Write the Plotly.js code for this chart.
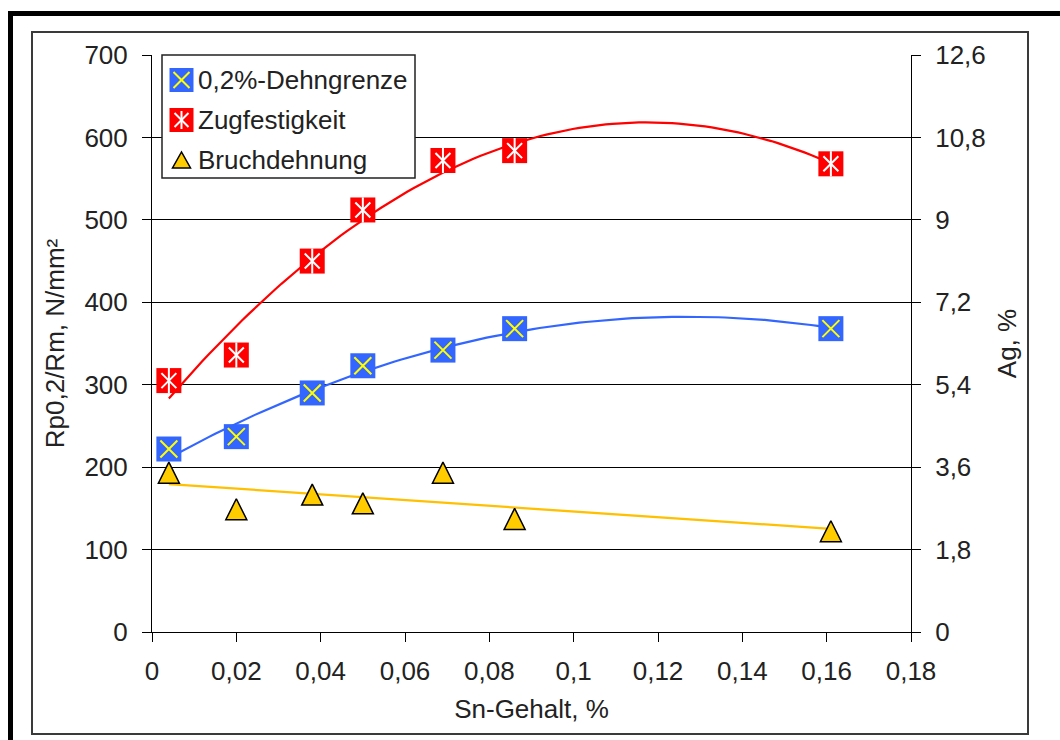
<!DOCTYPE html>
<html>
<head>
<meta charset="utf-8">
<script src="https://cdn.plot.ly/plotly-3.0.1.min.js"></script>
<style>
  html, body { margin: 0; padding: 0; background: #ffffff; }
  #chart { width: 1060px; height: 740px; }
</style>
</head>
<body>
<div id="chart"></div>
<script>
// Sn content of the alloys, %
const snContent = [0.004, 0.02, 0.038, 0.05, 0.069, 0.086, 0.161];
// 0,2%-Dehngrenze Rp0,2, N/mm²
const yieldStrength = [222, 237, 290, 323, 342, 368, 368];
// Zugfestigkeit Rm, N/mm²
const tensileStrength = [305, 336, 450, 512, 572, 584, 568];
// Bruchdehnung Ag, %
const elongation = [3.48, 2.68, 3.0, 2.81, 3.48, 2.47, 2.2];

const seriesNames = ['0,2%-Dehngrenze', 'Zugfestigkeit', 'Bruchdehnung'];

const xTickVals = [0, 0.02, 0.04, 0.06, 0.08, 0.1, 0.12, 0.14, 0.16, 0.18];
const xTickText = ['0', '0,02', '0,04', '0,06', '0,08', '0,1', '0,12', '0,14', '0,16', '0,18'];
const leftTickVals = [0, 100, 200, 300, 400, 500, 600, 700];
const leftTickText = ['0', '100', '200', '300', '400', '500', '600', '700'];
const gridVals = [100, 200, 300, 400, 500, 600];
const rightTickVals = [0, 1.8, 3.6, 5.4, 7.2, 9, 10.8, 12.6];
const rightTickText = ['0', '1,8', '3,6', '5,4', '7,2', '9', '10,8', '12,6'];

// Least-squares polynomial trend (coefficients c0 + c1 x + c2 x² ...)
function polyFit(xs, ys, degree) {
  const n = degree + 1;
  const A = Array.from({ length: n }, () => new Array(n + 1).fill(0));
  xs.forEach((x, k) => {
    for (let i = 0; i < n; i++) {
      for (let j = 0; j < n; j++) A[i][j] += Math.pow(x, i + j);
      A[i][n] += Math.pow(x, i) * ys[k];
    }
  });
  for (let i = 0; i < n; i++) {
    let p = i;
    for (let r = i + 1; r < n; r++) if (Math.abs(A[r][i]) > Math.abs(A[p][i])) p = r;
    [A[i], A[p]] = [A[p], A[i]];
    for (let r = 0; r < n; r++) {
      if (r === i) continue;
      const f = A[r][i] / A[i][i];
      for (let c = i; c <= n; c++) A[r][c] -= f * A[i][c];
    }
  }
  return A.map((row, i) => row[n] / row[i]);
}
function trendLine(xs, ys, degree) {
  const coef = polyFit(xs, ys, degree);
  const lo = Math.min(...xs), hi = Math.max(...xs);
  const tx = [], ty = [];
  for (let k = 0; k <= 100; k++) {
    const x = lo + (hi - lo) * k / 100;
    tx.push(x);
    ty.push(coef.reduce((s, c, i) => s + c * Math.pow(x, i), 0));
  }
  return { x: tx, y: ty };
}

const BLUE = '#3366FF', RED = '#FF0000', GOLD = '#FFC000', TRI = '#FFCC00';
const YELLOW = '#FFFF00', WHITE = '#FFFFFF';
const FONT = 'Liberation Sans, Arial, sans-serif';
const TXT = '#222222';

const rpTrend = trendLine(snContent, yieldStrength, 2);
const rmTrend = trendLine(snContent, tensileStrength, 2);
const agTrend = trendLine(snContent, elongation, 1);

const traces = [
  { x: rpTrend.x, y: rpTrend.y, mode: 'lines', line: { color: BLUE, width: 2.2 }, hoverinfo: 'skip' },
  { x: rmTrend.x, y: rmTrend.y, mode: 'lines', line: { color: RED, width: 2.2 }, hoverinfo: 'skip' },
  { x: agTrend.x, y: agTrend.y, yaxis: 'y2', mode: 'lines', line: { color: GOLD, width: 2.2 }, hoverinfo: 'skip' },
  { x: [], y: [], yaxis: 'y3', mode: 'markers', hoverinfo: 'skip' },
  { x: [], y: [], yaxis: 'y4', mode: 'markers', hoverinfo: 'skip' },
  // 0,2%-Dehngrenze: blue square with yellow cross
  { name: seriesNames[0], x: snContent, y: yieldStrength, mode: 'markers',
    marker: { symbol: 'square', size: 25, color: BLUE, line: { width: 0 } } },
  { x: snContent, y: yieldStrength, mode: 'markers', hoverinfo: 'skip',
    marker: { symbol: 'x-thin-open', size: 17, color: YELLOW, line: { color: YELLOW, width: 2 } } },
  // Zugfestigkeit: red square with white star
  { name: seriesNames[1], x: snContent, y: tensileStrength, mode: 'markers',
    marker: { symbol: 'square', size: 25, color: RED, line: { width: 0 } } },
  { x: snContent, y: tensileStrength, mode: 'markers', hoverinfo: 'skip',
    marker: { symbol: 'x-thin-open', size: 15, color: WHITE, line: { color: WHITE, width: 2 } } },
  { x: snContent, y: tensileStrength, mode: 'markers', hoverinfo: 'skip',
    marker: { symbol: 'line-ns-open', size: 18, color: WHITE, line: { color: WHITE, width: 2 } } },
  // Bruchdehnung: gold triangle on the right axis, centred on its value
  { name: seriesNames[2], x: snContent, y: elongation, yaxis: 'y2', mode: 'markers',
    marker: { symbol: 'arrow-down', angle: 180, size: 21, standoff: 10.5, color: TRI,
              line: { color: '#000000', width: 1.5 } } }
];

// page geometry in pixels, converted to paper fractions for frames and the key
const M = { l: 152, r: 149, t: 55, b: 108 };
const W = 1060 - M.l - M.r, H = 740 - M.t - M.b;
const fx = px => (px - M.l) / W;
const fy = py => (M.t + H - py) / H;

function rectPx(x0, y0, x1, y1, style) {
  return Object.assign({ type: 'rect', xref: 'paper', yref: 'paper',
    x0: fx(x0), x1: fx(x1), y0: fy(y1), y1: fy(y0) }, style);
}
function linePx(x0, y0, x1, y1, color, width) {
  return { type: 'line', xref: 'paper', yref: 'paper',
    x0: fx(x0), x1: fx(x1), y0: fy(y0), y1: fy(y1), line: { color: color, width: width } };
}

const keyX = 181.5, keyTextX = 196;
const keyRows = [80, 120, 160];

const shapes = [
  // outer heavy frame
  linePx(8, 13.5, 1060, 13.5, '#000000', 5),
  linePx(10.5, 11, 10.5, 740, '#000000', 5),
  // chart border
  rectPx(32, 32, 1028, 734, { line: { color: '#3a3a3a', width: 2 } }),
  // key box
  rectPx(162, 55, 415, 178, { line: { color: '#222222', width: 1.5 }, fillcolor: WHITE }),
  // key symbols
  rectPx(keyX - 12, keyRows[0] - 12, keyX + 12, keyRows[0] + 12, { line: { width: 0 }, fillcolor: BLUE }),
  linePx(keyX - 8, keyRows[0] - 8, keyX + 8, keyRows[0] + 8, YELLOW, 2),
  linePx(keyX - 8, keyRows[0] + 8, keyX + 8, keyRows[0] - 8, YELLOW, 2),
  rectPx(keyX - 12, keyRows[1] - 12, keyX + 12, keyRows[1] + 12, { line: { width: 0 }, fillcolor: RED }),
  linePx(keyX - 7, keyRows[1] - 7, keyX + 7, keyRows[1] + 7, WHITE, 2),
  linePx(keyX - 7, keyRows[1] + 7, keyX + 7, keyRows[1] - 7, WHITE, 2),
  linePx(keyX, keyRows[1] - 9, keyX, keyRows[1] + 9, WHITE, 2),
  { type: 'path', xref: 'paper', yref: 'paper',
    path: 'M' + fx(keyX - 9) + ',' + fy(keyRows[2] + 8) + ' L' + fx(keyX + 9) + ',' + fy(keyRows[2] + 8) +
          ' L' + fx(keyX) + ',' + fy(keyRows[2] - 8) + ' Z',
    fillcolor: TRI, line: { color: '#000000', width: 1.5 } }
];

const annotations = seriesNames.map((name, i) => ({
  xref: 'paper', yref: 'paper', x: fx(keyTextX), y: fy(keyRows[i]),
  xanchor: 'left', yanchor: 'middle', showarrow: false, text: name,
  font: { family: FONT, size: 26, color: TXT }
}));

const tickFont = { family: FONT, size: 26, color: TXT };
const titleFont = { family: FONT, size: 26, color: TXT };

const layout = {
  width: 1060, height: 740,
  margin: M,
  paper_bgcolor: '#FFFFFF', plot_bgcolor: '#FFFFFF',
  showlegend: false,
  separators: ', ',
  font: { family: FONT, color: TXT },
  xaxis: {
    range: [0, 0.18], tickvals: xTickVals, ticktext: xTickText,
    ticks: 'outside', ticklen: 9, tickwidth: 1, tickcolor: '#000',
    showline: true, linecolor: '#000', linewidth: 1,
    showgrid: false, zeroline: false, tickfont: tickFont, ticklabelstandoff: 7,
    title: { text: 'Sn-Gehalt, %', font: titleFont, standoff: 14 },
    fixedrange: true, automargin: false
  },
  yaxis: {
    range: [0, 700], tickvals: leftTickVals, ticktext: leftTickText,
    ticks: 'outside', ticklen: 9, tickwidth: 1, tickcolor: '#000',
    showline: true, linecolor: '#000', linewidth: 1,
    showgrid: false, zeroline: false, tickfont: tickFont, ticklabelstandoff: 9,
    title: { text: 'Rp0,2/Rm, N/mm²', font: titleFont, standoff: 12 },
    fixedrange: true, automargin: false
  },
  yaxis2: {
    overlaying: 'y', side: 'right', anchor: 'x',
    range: [0, 12.6], tickvals: rightTickVals, ticktext: rightTickText,
    ticks: 'outside', ticklen: 9, tickwidth: 1, tickcolor: '#000',
    showline: true, linecolor: '#000', linewidth: 1,
    showgrid: false, zeroline: false, tickfont: tickFont, ticklabelstandoff: 9,
    title: { text: 'Ag, %', font: titleFont, standoff: 12 },
    fixedrange: true, automargin: false
  },
  // horizontal grid lines
  yaxis3: {
    overlaying: 'y', anchor: 'x', range: [0, 700], tickvals: gridVals,
    showgrid: true, gridcolor: '#000', gridwidth: 1,
    ticks: '', showticklabels: false, showline: false, zeroline: false, fixedrange: true
  },
  // inner half of the right-hand ticks
  yaxis4: {
    overlaying: 'y', side: 'right', anchor: 'x', range: [0, 12.6], tickvals: rightTickVals,
    ticks: 'inside', ticklen: 11, tickwidth: 1, tickcolor: '#000',
    showticklabels: false, showgrid: false, showline: false, zeroline: false, fixedrange: true
  },
  shapes: shapes,
  annotations: annotations
};

Plotly.newPlot('chart', traces, layout, { staticPlot: true, displayModeBar: false });
</script>
</body>
</html>
